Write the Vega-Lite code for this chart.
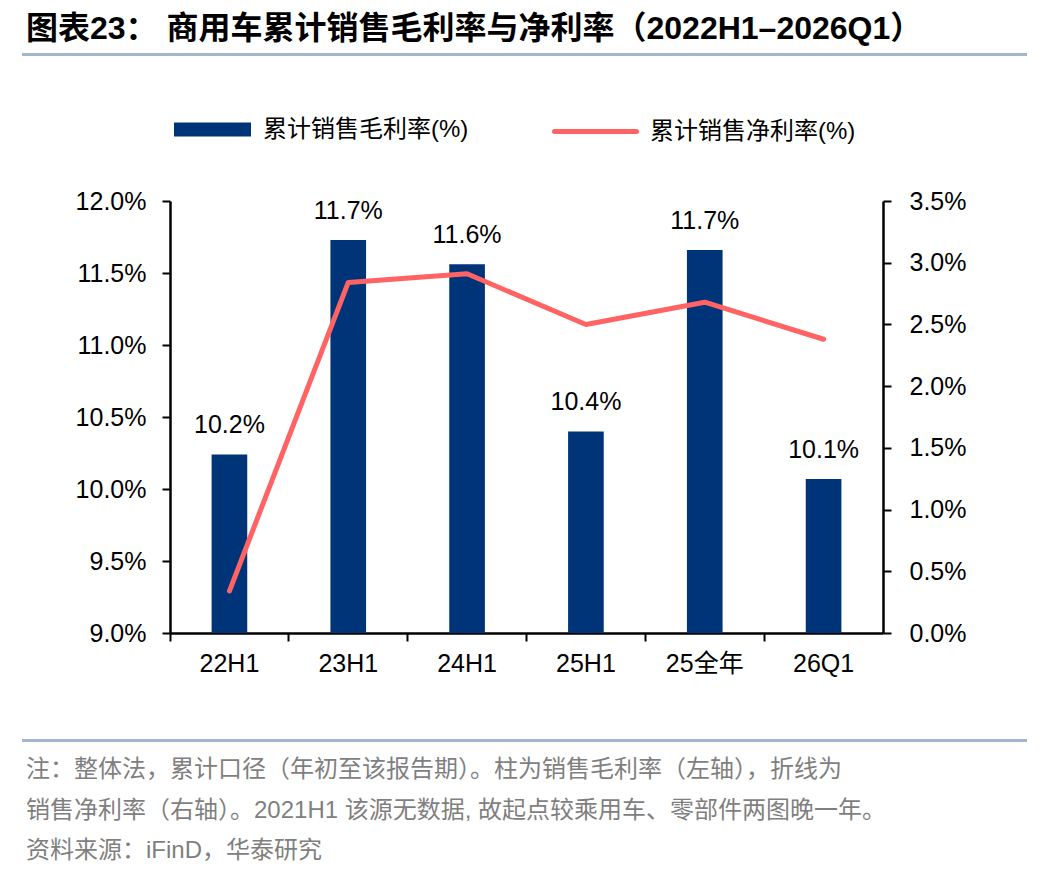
{
  "$schema": "https://vega.github.io/schema/vega-lite/v6.json",
  "background": "white",
  "padding": {"left": 22, "top": 12, "right": 0, "bottom": 0},
  "config": {
    "font": "Liberation Sans, Noto Sans CJK SC",
    "view": {"stroke": null}
  },
  "columns": 1,
  "align": "none",
  "spacing": 32,
  "resolve": {"legend": {"fill": "independent", "stroke": "independent"}},
  "concat": [
    {
      "width": 1003,
      "height": 1,
      "view": {"stroke": "#A3B6CD", "strokeWidth": 2},
      "title": {
        "text": "图表23：  商用车累计销售毛利率与净利率（2022H1–2026Q1）",
        "anchor": "start",
        "frame": "group",
        "fontSize": 32,
        "fontWeight": "bold",
        "color": "#000000",
        "offset": 8,
        "dx": 3
      },
      "data": {"values": []},
      "mark": "rule",
      "encoding": {}
    },
    {
      "columns": 1,
      "align": "none",
      "spacing": 63,
      "resolve": {"legend": {"fill": "independent", "stroke": "independent"}},
      "concat": [
        {
          "hconcat": [
            {
              "width": 1,
              "height": 1,
              "data": {"values": []},
              "mark": "rule",
              "encoding": {}
            },
            {
              "width": 713,
              "height": 432,
              "data": {
                "values": [
                  {"period": "22H1", "gross": 0.1024, "net": 0.0034},
                  {"period": "23H1", "gross": 0.1173, "net": 0.0284},
                  {"period": "24H1", "gross": 0.1156, "net": 0.0291},
                  {"period": "25H1", "gross": 0.1040, "net": 0.0250},
                  {"period": "25全年", "gross": 0.1166, "net": 0.0268},
                  {"period": "26Q1", "gross": 0.1007, "net": 0.0238}
                ]
              },
              "encoding": {
                "x": {
                  "field": "period",
                  "type": "nominal",
                  "sort": null,
                  "scale": {"paddingInner": 0, "paddingOuter": 0},
                  "axis": {
                    "title": null,
                    "bandPosition": 0,
                    "labelAngle": 0,
                    "labelFontSize": 25,
                    "labelColor": "#000000",
                    "labelPadding": 10,
                    "tickSize": 8,
                    "tickWidth": 2,
                    "tickColor": "#000000",
                    "domainColor": "#000000",
                    "domainWidth": 2.5,
                    "grid": false
                  }
                }
              },
              "layer": [
                {
                  "layer": [
                    {
                      "mark": {"type": "bar", "width": {"band": 0.3}},
                      "encoding": {
                        "y": {
                          "field": "gross",
                          "type": "quantitative",
                          "scale": {"domain": [0.09, 0.12], "zero": false, "nice": false},
                          "axis": {
                            "title": null,
                            "values": [0.09, 0.095, 0.1, 0.105, 0.11, 0.115, 0.12],
                            "format": ".1%",
                            "labelFontSize": 25,
                            "labelColor": "#000000",
                            "labelPadding": 16,
                            "tickSize": 8,
                            "tickWidth": 2,
                            "tickColor": "#000000",
                            "domainColor": "#000000",
                            "domainWidth": 2.5,
                            "grid": false,
                            "minExtent": 146,
                            "maxExtent": 146
                          }
                        },
                        "y2": {"datum": 0.09},
                        "fill": {
                          "datum": "累计销售毛利率(%)",
                          "scale": {"range": ["#003478"]},
                          "legend": {
                            "title": null,
                            "orient": "none",
                            "legendX": 4,
                            "legendY": -110,
                            "symbolType": "M-1,-0.182H1V0.182H-1Z",
                            "symbolSize": 5929,
                            "symbolStrokeWidth": 0,
                            "labelFontSize": 24,
                            "labelOffset": 12,
                            "labelLimit": 400,
                            "labelColor": "#000000"
                          }
                        }
                      }
                    },
                    {
                      "mark": {"type": "text", "baseline": "alphabetic", "dy": -21, "fontSize": 25, "color": "#000000"},
                      "encoding": {
                        "y": {"field": "gross", "type": "quantitative"},
                        "text": {"field": "gross", "type": "quantitative", "format": ".1%"}
                      }
                    }
                  ]
                },
                {
                  "mark": {"type": "line", "strokeWidth": 5, "strokeCap": "round", "strokeJoin": "round"},
                  "encoding": {
                    "y": {
                      "field": "net",
                      "type": "quantitative",
                      "scale": {"domain": [0, 0.035], "nice": false},
                      "axis": {
                        "title": null,
                        "orient": "right",
                        "values": [0, 0.005, 0.01, 0.015, 0.02, 0.025, 0.03, 0.035],
                        "format": ".1%",
                        "labelFontSize": 25,
                        "labelColor": "#000000",
                        "labelPadding": 18,
                        "tickSize": 8,
                        "tickWidth": 2,
                        "tickColor": "#000000",
                        "domainColor": "#000000",
                        "domainWidth": 2.5,
                        "grid": false
                      }
                    },
                    "stroke": {
                      "datum": "累计销售净利率(%)",
                      "scale": {"range": ["#FF6363"]},
                      "legend": {
                        "title": null,
                        "orient": "none",
                        "legendX": 382,
                        "legendY": -113,
                        "symbolType": "stroke",
                        "symbolSize": 6724,
                        "symbolStrokeWidth": 5,
                        "labelFontSize": 24,
                        "labelOffset": 11,
                        "labelLimit": 400,
                        "labelColor": "#000000",
                        "encode": {"symbols": {"update": {"strokeCap": {"value": "round"}}}}
                      }
                    }
                  }
                }
              ],
              "resolve": {"scale": {"y": "independent"}}
            }
          ],
          "spacing": 0,
          "resolve": {"legend": {"fill": "independent", "stroke": "independent"}}
        },
        {
          "width": 1003,
          "height": 1,
          "view": {"stroke": "#A3B6CD", "strokeWidth": 2},
          "title": {
            "text": [
              "注：整体法，累计口径（年初至该报告期）。柱为销售毛利率（左轴），折线为",
              "销售净利率（右轴）。2021H1 该源无数据, 故起点较乘用车、零部件两图晚一年。",
              "资料来源：iFinD，华泰研究"
            ],
            "orient": "bottom",
            "anchor": "start",
            "frame": "group",
            "fontSize": 24,
            "fontWeight": "normal",
            "color": "#7F7F7F",
            "lineHeight": 40.5,
            "offset": 17,
            "dx": 3
          },
          "data": {"values": []},
          "mark": "rule",
          "encoding": {}
        }
      ]
    }
  ]
}
